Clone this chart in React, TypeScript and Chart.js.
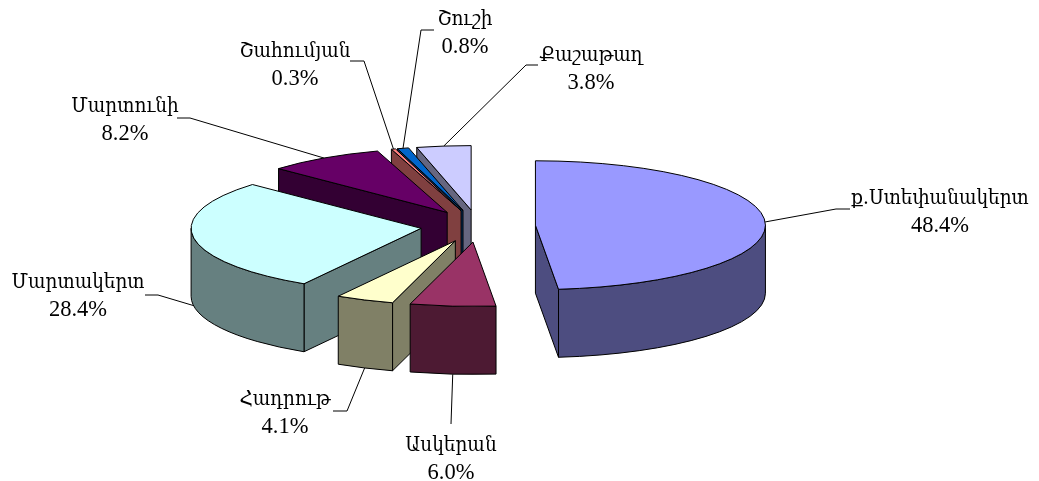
import React, { useEffect, useRef } from "react";
import { Chart, registerables } from "chart.js";

Chart.register(...registerables);

const districts = ["ք.Ստեփանակերտ", "Ասկերան", "Հադրութ", "Մարտակերտ", "Մարտունի", "Շահումյան", "Շուշի", "Քաշաթաղ"];
const shares = [48.4, 6.0, 4.1, 28.4, 8.2, 0.3, 0.8, 3.8];
const topColors = ["#9999FF", "#993366", "#FFFFCC", "#CCFFFF", "#660066", "#FF8080", "#0066CC", "#CCCCFF"];
const sideColors = ["#4D4D80", "#4D1A33", "#808066", "#668080", "#330033", "#804040", "#003366", "#666680"];

// label layout, in dataset order: text centre, first baseline, leader elbow, leader end, leader from wall foot
const labelLayout = [
  { cx: 940, y: 204, elbow: [836, 209], end: [850, 209], foot: false },
  { cx: 451, y: 451, elbow: [451, 424], end: [451, 424], foot: true },
  { cx: 285, y: 405, elbow: [347, 411], end: [333, 411], foot: true },
  { cx: 78, y: 288, elbow: [158, 295], end: [145, 295], foot: true },
  { cx: 125, y: 112, elbow: [190, 118], end: [177, 118], foot: false },
  { cx: 295, y: 57, elbow: [364, 61], end: [350, 61], foot: false },
  { cx: 465, y: 25, elbow: [421, 30], end: [434, 30], foot: false },
  { cx: 591, y: 61, elbow: [526, 65], end: [538, 65], foot: false },
];

const TILT = 0.28;
const DEPTH = 68;
const EXPLODE = 57.5;
const LINE_GAP = 28;
const NAME_FONT = "21px 'DejaVu Serif', serif";
const NAME_SQUEEZE = 0.88;
const VALUE_FONT = "22.5px 'Liberation Serif', serif";

const pie3d = {
  id: "pie3d",
  beforeDatasetDraw(chart: any) {
    const ctx: CanvasRenderingContext2D = chart.ctx;
    const arcs: any[] = chart.getDatasetMeta(0).data;
    const geometry = arcs.map((arc, index) => {
      const mid = (arc.startAngle + arc.endAngle) / 2;
      return {
        arc,
        index,
        mid,
        ox: arc.x + Math.cos(mid) * EXPLODE,
        oy: arc.y + Math.sin(mid) * EXPLODE * TILT,
      };
    });
    const order = [...geometry].sort((a, b) => a.oy - b.oy);
    ctx.save();
    ctx.lineWidth = 1;
    ctx.strokeStyle = "#000";
    ctx.lineJoin = "round";
    for (const g of order) {
      const { arc, ox, oy, index } = g;
      const r = arc.outerRadius;
      const ry = r * TILT;
      const start = arc.startAngle;
      const end = arc.endAngle;
      const px = (a: number) => ox + Math.cos(a) * r;
      const py = (a: number) => oy + Math.sin(a) * ry;
      ctx.fillStyle = sideColors[index];
      const face = (a: number) => {
        ctx.beginPath();
        ctx.moveTo(ox, oy);
        ctx.lineTo(px(a), py(a));
        ctx.lineTo(px(a), py(a) + DEPTH);
        ctx.lineTo(ox, oy + DEPTH);
        ctx.closePath();
        ctx.fill();
        ctx.stroke();
      };
      if (Math.cos(start) < -1e-6) face(start);
      if (Math.cos(end) > 1e-6) face(end);
      const lo = Math.max(start, 0);
      const hi = Math.min(end, Math.PI);
      if (hi > lo) {
        ctx.beginPath();
        ctx.ellipse(ox, oy, r, ry, 0, lo, hi);
        ctx.lineTo(px(hi), py(hi) + DEPTH);
        ctx.ellipse(ox, oy + DEPTH, r, ry, 0, hi, lo, true);
        ctx.closePath();
        ctx.fill();
        ctx.stroke();
      }
      // top face: the library's own arc element, under the tilt transform
      ctx.save();
      ctx.translate(ox, oy);
      ctx.scale(1, TILT);
      ctx.translate(-arc.x, -arc.y);
      arc.draw(ctx);
      ctx.restore();
      ctx.beginPath();
      ctx.moveTo(ox, oy);
      ctx.ellipse(ox, oy, r, ry, 0, start, end);
      ctx.closePath();
      ctx.stroke();
    }
    ctx.restore();
    return false;
  },
  afterDraw(chart: any) {
    const ctx: CanvasRenderingContext2D = chart.ctx;
    const arcs: any[] = chart.getDatasetMeta(0).data;
    ctx.save();
    ctx.strokeStyle = "#000";
    ctx.lineWidth = 1;
    ctx.fillStyle = "#000";
    ctx.textAlign = "center";
    ctx.textBaseline = "alphabetic";
    arcs.forEach((arc, i) => {
      const mid = (arc.startAngle + arc.endAngle) / 2;
      const layout = labelLayout[i];
      const ox = arc.x + Math.cos(mid) * (EXPLODE + arc.outerRadius);
      const oy = arc.y + Math.sin(mid) * (EXPLODE + arc.outerRadius) * TILT + (layout.foot ? DEPTH : 0);
      ctx.beginPath();
      ctx.moveTo(ox, oy);
      ctx.lineTo(layout.elbow[0], layout.elbow[1]);
      ctx.lineTo(layout.end[0], layout.end[1]);
      ctx.stroke();
      ctx.font = NAME_FONT;
      ctx.fillText(districts[i], layout.cx, layout.y, ctx.measureText(districts[i]).width * NAME_SQUEEZE);
      ctx.font = VALUE_FONT;
      ctx.fillText(shares[i].toFixed(1) + "%", layout.cx, layout.y + LINE_GAP);
    });
    ctx.restore();
  },
};

export default function App() {
  const ref = useRef<HTMLCanvasElement>(null);
  useEffect(() => {
    if (!ref.current) return;
    const chart = new Chart(ref.current, {
      type: "pie",
      data: {
        labels: districts,
        datasets: [{ data: shares, backgroundColor: topColors, borderWidth: 0, clip: false } as any],
      },
      options: {
        responsive: false,
        animation: false,
        events: [],
        radius: 230,
        layout: { padding: { right: 83, bottom: 29 } },
        plugins: { legend: { display: false }, tooltip: { enabled: false } },
      } as any,
      plugins: [pie3d as any],
    });
    return () => chart.destroy();
  }, []);
  return (
    <div style={{ position: "absolute", left: 0, top: 0, width: 1039, height: 481, background: "#fff" }}>
      <canvas ref={ref} width={1039} height={481} style={{ display: "block" }} />
    </div>
  );
}
